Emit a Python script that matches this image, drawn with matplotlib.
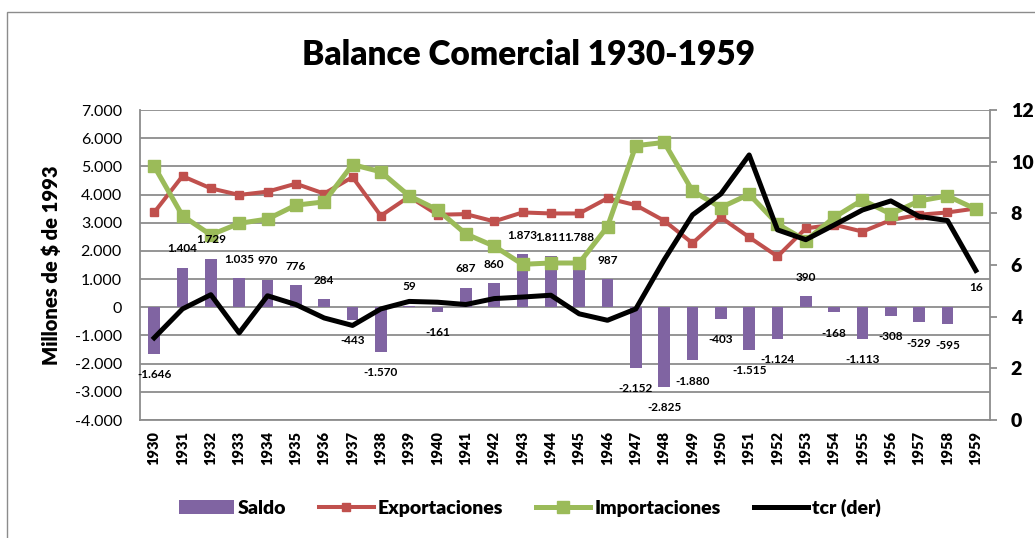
import numpy as np
import matplotlib
matplotlib.use("Agg")
import matplotlib.pyplot as plt
from matplotlib.patches import Rectangle, Patch
from matplotlib.lines import Line2D

plt.rcParams['font.family'] = ['Lato', 'DejaVu Sans']

years = list(range(1930, 1960))
saldo = [-1646, 1404, 1729, 1035, 970, 776, 284, -443, -1570, 59,
         -161, 687, 860, 1873, 1811, 1788, 987, -2152, -2825, -1880,
         -403, -1515, -1124, 390, -168, -1113, -308, -529, -595, 16]
exportaciones = [3365, 4654, 4220, 3986, 4103, 4385, 4033, 4619, 3247, 3927,
                 3283, 3306, 3048, 3365, 3329, 3329, 3869, 3623, 3072, 2274,
                 3189, 2485, 1805, 2802, 2931, 2685, 3095, 3283, 3365, 3505]
importaciones = [5006, 3247, 2567, 2978, 3130, 3623, 3740, 5064, 4807, 3951,
                 3458, 2603, 2169, 1524, 1571, 1571, 2861, 5733, 5850, 4127,
                 3540, 4009, 2954, 2368, 3189, 3810, 3306, 3775, 3951, 3482]
tcr = [3.18, 4.30, 4.85, 3.37, 4.81, 4.47, 3.95, 3.66, 4.30, 4.59,
       4.56, 4.47, 4.70, 4.76, 4.83, 4.11, 3.86, 4.30, 6.20, 7.94,
       8.75, 10.26, 7.36, 6.98, 7.55, 8.13, 8.48, 7.88, 7.72, 5.79]

purple = '#8064A2'
red = '#C0504D'
green = '#9BBB59'
grey = '#8C8C8C'


def miles(v):
    s = f"{abs(int(v)):,}".replace(',', '.')
    return '-' + s if v < 0 else s


W, H = 1035, 538
fig = plt.figure(figsize=(W / 100, H / 100), dpi=100)
fig.patches.append(Rectangle((7 / W, -0.1), 1.2, 1.1 - 12 / H, transform=fig.transFigure,
                             fill=False, edgecolor=grey, linewidth=1.0))

ax = fig.add_axes([140 / W, (H - 420) / H, (990 - 140) / W, (420 - 110) / H])
x = np.arange(len(years))

ax.bar(x, saldo, width=0.42, color=purple, zorder=2)
ax.plot(x, exportaciones, color=red, linewidth=2.9, marker='s', markersize=5.8, zorder=3)
ax.plot(x, importaciones, color=green, linewidth=3.6, marker='s', markersize=8, zorder=4)

for xi, v in zip(x, saldo):
    off = 19 if v >= 0 else -21
    ax.annotate(miles(v), (xi, v), xytext=(0, off), textcoords='offset pixels',
                ha='center', va='center', fontsize=8.5, fontweight='bold', zorder=6)

ax.set_xlim(-0.5, len(years) - 0.5)
ax.set_ylim(-4000, 7000)
ax.set_yticks(range(-4000, 7001, 1000))
ax.set_yticklabels([miles(v) for v in range(-4000, 7001, 1000)], fontsize=11.5)
ax.set_xticks(x)
ax.set_xticklabels(years, rotation=90, fontsize=10.5, fontweight='heavy')
ax.tick_params(axis='x', length=0, pad=8)
ax.tick_params(axis='y', length=0, pad=13)
ax.yaxis.grid(True, color=grey, linewidth=1.3, zorder=0)
ax.set_axisbelow(True)
for side in ['top', 'right']:
    ax.spines[side].set_visible(False)
for side in ['left', 'bottom']:
    ax.spines[side].set_color(grey)
    ax.spines[side].set_linewidth(1.3)
ax.set_ylabel('Millones de $ de 1993', fontsize=14.5, fontweight='heavy', labelpad=10)

ax2 = ax.twinx()
ax2.plot(x, tcr, color='black', linewidth=3.6, zorder=5)
ax2.set_ylim(0, 12)
ax2.set_yticks(range(0, 13, 2))
ax2.set_yticklabels(range(0, 13, 2), fontsize=14, fontweight='heavy')
ax2.tick_params(axis='y', length=5, color=grey, width=1.3, pad=10)
for side in ['top', 'left', 'bottom']:
    ax2.spines[side].set_visible(False)
ax2.spines['right'].set_color(grey)
ax2.spines['right'].set_linewidth(1.3)

fig.text(528 / W, 1 - 55 / H, 'Balance Comercial 1930-1959', ha='center', va='center',
         fontsize=24, fontweight='heavy')

handles = [Patch(facecolor=purple),
           Line2D([], [], color=red, linewidth=2.9, marker='s', markersize=5.8),
           Line2D([], [], color=green, linewidth=3.6, marker='s', markersize=8),
           Line2D([], [], color='black', linewidth=3.6)]
labels = ['Saldo', 'Exportaciones', 'Importaciones', 'tcr (der)']
fig.legend(handles, labels, loc='center', bbox_to_anchor=(530 / W, 1 - 508 / H), ncol=4,
           frameon=False, prop={'size': 14, 'weight': 'heavy'},
           handlelength=2.8, handleheight=0.7, handletextpad=0.2, columnspacing=1.7)

fig.savefig('out.png', dpi=100)
